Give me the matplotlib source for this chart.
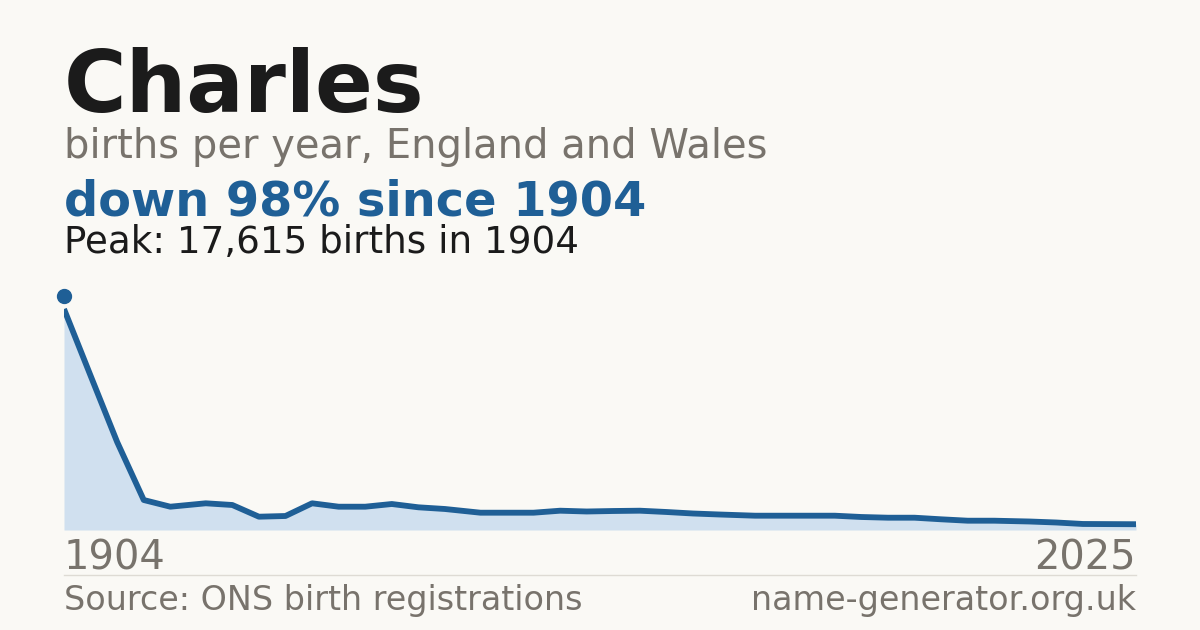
import numpy as np
import matplotlib.pyplot as plt
from matplotlib.transforms import offset_copy

# births per year for the name Charles
years = [1904, 1907, 1910, 1913, 1916, 1920, 1923, 1926, 1929, 1932,
         1935, 1938, 1941, 1944, 1947, 1951, 1954, 1957, 1960, 1963,
         1966, 1969, 1972, 1975, 1978, 1982, 1985, 1988, 1991, 1994,
         1997, 2000, 2003, 2006, 2009, 2013, 2016, 2019, 2022, 2025]
births = [17615, 12300, 7014, 2391, 1857, 2128, 1993, 1060, 1116, 2128,
          1857, 1857, 2072, 1809, 1674, 1379, 1379, 1379, 1538, 1475,
          1514, 1538, 1435, 1315, 1235, 1140, 1140, 1140, 1140, 1036,
          980, 980, 853, 741, 741, 677, 598, 480, 470, 460]

name = "Charles"
subtitle = "births per year, England and Wales"
change = "down 98% since 1904"
peak_text = "Peak: 17,615 births in 1904"
source = "Source: ONS birth registrations"
site = "name-generator.org.uk"

bg = "#faf9f5"
blue = "#1f5f96"
fill_col = "#d0e0ef"
grey = "#78736c"
dark = "#1b1b1b"

W, H = 1200, 630
fig = plt.figure(figsize=(W / 100, H / 100), dpi=100, facecolor=bg)

def fy(px):
    return 1 - px / H

# plot area: x 64..1136, y 290..530 px
ax = fig.add_axes([64 / W, fy(530), 1072 / W, 240 / H])
ax.set_facecolor(bg)
ax.fill_between(years, births, 0, color=fill_col, lw=0)
ax.plot(years, births, color=blue, lw=4.2, solid_joinstyle="round",
        solid_capstyle="butt")
mark_tr = offset_copy(ax.transData, fig=fig, x=0, y=13, units="dots")
ax.plot([years[0]], [births[0]], "o", ms=10, color=blue, transform=mark_tr,
        clip_on=False)
ax.set_xlim(years[0], years[-1])
ax.set_ylim(0, max(births) * 240 / 221)
ax.axis("off")

# header text
fig.text(64 / W, fy(112), name, fontsize=61.5, fontweight="bold", color=dark,
         va="baseline")
fig.text(64 / W, fy(158), subtitle, fontsize=28.8, color=grey, va="baseline")
fig.text(64 / W, fy(215), change, fontsize=34.5, fontweight="bold", color=blue,
         va="baseline")
fig.text(64 / W, fy(253), peak_text, fontsize=26.8, color=dark, va="baseline")

# axis end labels
fig.text(64 / W, fy(570), str(years[0]), fontsize=28.8, color=grey,
         va="baseline")
fig.text(1136 / W, fy(570), str(years[-1]), fontsize=28.8, color=grey,
         va="baseline", ha="right")

# separator and footer
fig.add_artist(plt.Line2D([64 / W, 1136 / W], [fy(574.5), fy(574.5)],
                          color="#dedbd4", lw=1))
fig.text(64 / W, fy(610), source, fontsize=24, color=grey, va="baseline")
fig.text(1136 / W, fy(610), site, fontsize=24, color=grey, va="baseline",
         ha="right")

fig.savefig("out.png", dpi=100, facecolor=bg)
